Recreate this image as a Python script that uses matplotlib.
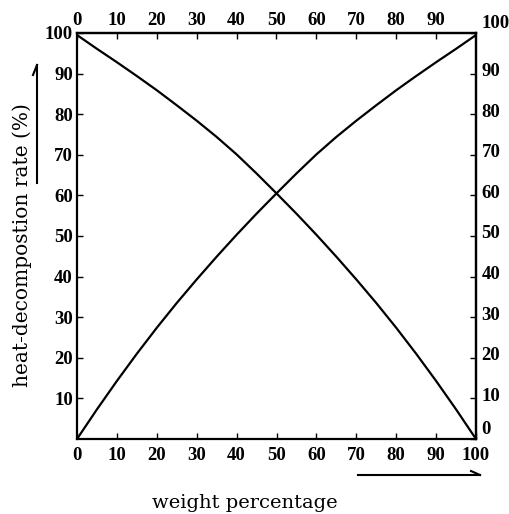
"""
Heat-decomposition rate vs weight percentage: two mirrored curves
crossing near 50 %, redrawn from a scanned figure.
"""

import matplotlib
matplotlib.use("Agg")
import matplotlib.pyplot as plt
import matplotlib.transforms as mtransforms
from matplotlib.lines import Line2D

# values, every 5 % of weight
weight_pct = [0, 5, 10, 15, 20, 25, 30, 35, 40, 45, 50,
              55, 60, 65, 70, 75, 80, 85, 90, 95, 100]
rate_rising = [0, 7.3, 14.3, 21.0, 27.4, 33.5, 39.3, 44.9, 50.3, 55.5, 60.5,
               65.4, 70.1, 74.4, 78.4, 82.2, 85.9, 89.4, 92.8, 96.1, 99.5]
rate_falling = [99.5, 96.1, 92.8, 89.4, 85.9, 82.2, 78.4, 74.4, 70.1, 65.4, 60.5,
                55.5, 50.3, 44.9, 39.3, 33.5, 27.4, 21.0, 14.3, 7.3, 0]

bottom_ticks = [0, 10, 20, 30, 40, 50, 60, 70, 80, 90, 100]
top_ticks = [0, 10, 20, 30, 40, 50, 60, 70, 80, 90]
left_ticks = [10, 20, 30, 40, 50, 60, 70, 80, 90, 100]
right_ticks = [0, 10, 20, 30, 40, 50, 60, 70, 80, 90, 100]

x_label = "weight percentage"
y_label = "heat-decompostion rate (%)"

TICK_FONT = {"family": "Liberation Serif", "weight": "bold", "size": 13.5}
LABEL_FONT = {"family": "DejaVu Serif", "size": 14}

W, H = 509, 514
fig = plt.figure(figsize=(W / 100, H / 100), dpi=100)
ax = fig.add_axes([77 / W, 1 - 439 / H, (476 - 77) / W, (439 - 33) / H])

ax.plot(weight_pct, rate_rising, color="black", linewidth=1.6)
ax.plot(weight_pct, rate_falling, color="black", linewidth=1.6)

ax.set_xlim(0, 100)
ax.set_ylim(0, 100)
for sp in ax.spines.values():
    sp.set_linewidth(1.6)

ax.set_xticks(bottom_ticks)
ax.set_yticks(left_ticks)
ax.set_xticklabels([str(t) for t in bottom_ticks], fontdict=TICK_FONT)
ax.set_yticklabels([str(t) for t in left_ticks], fontdict=TICK_FONT)
ax.tick_params(direction="in", length=4.5, width=1.0, pad=5.5)
ax.tick_params(axis="y", pad=3)

top = ax.secondary_xaxis("top")
top.set_xticks(top_ticks)
top.set_xticklabels([str(t) for t in top_ticks], fontdict=TICK_FONT)
top.tick_params(direction="in", length=4.5, width=1.0, pad=3)
top.spines["top"].set_linewidth(1.6)

right = ax.secondary_yaxis("right")
right.set_yticks(right_ticks)
right.set_yticklabels([str(t) for t in right_ticks], fontdict=TICK_FONT)
right.tick_params(direction="in", length=4.5, width=1.0, pad=4)
right.spines["right"].set_linewidth(1.6)

# right-hand numbers sit a little high on the scan; 0 and 100 clear the corners
for lbl in right.get_yticklabels():
    shift = 11 if lbl.get_text() in ("0", "100") else 4
    lbl.set_transform(lbl.get_transform()
                      + mtransforms.ScaledTranslation(0, shift / 100, fig.dpi_scale_trans))

fig.text(245 / W, 1 - 503 / H, x_label, ha="center", va="center", **LABEL_FONT)
fig.text(22 / W, 1 - 245 / H, y_label, ha="center", va="center",
         rotation=90, family="DejaVu Serif", size=14.5)

# hand-drawn direction arrows beside the axis labels
def px(x, y):
    return x / W, 1 - y / H

for (x0, y0), (x1, y1) in [
    ((37, 183), (37, 65)), ((37, 65), (33, 75)),
    ((358, 475), (480, 475)), ((480, 475), (471, 471)),
]:
    (fx0, fy0), (fx1, fy1) = px(x0, y0), px(x1, y1)
    fig.add_artist(Line2D([fx0, fx1], [fy0, fy1], color="black",
                          linewidth=1.5, transform=fig.transFigure))

fig.savefig("out.png", dpi=100)
plt.close(fig)
